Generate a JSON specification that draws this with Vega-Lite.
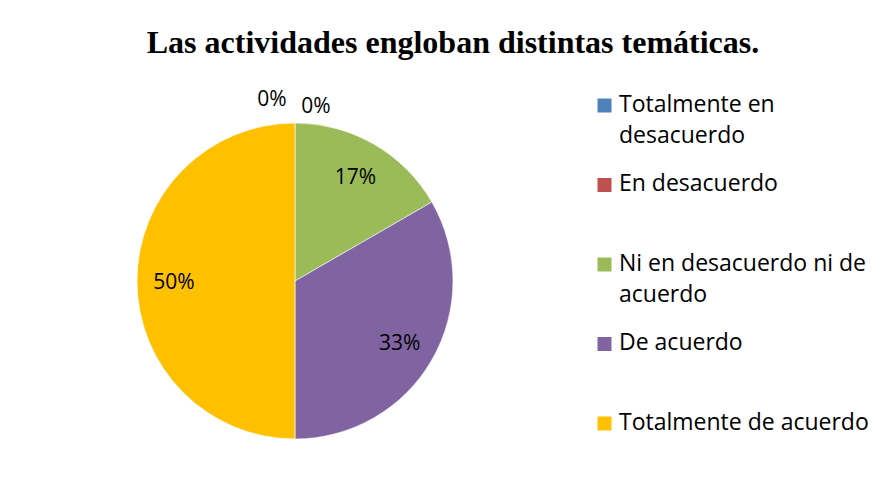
{
  "$schema": "https://vega.github.io/schema/vega-lite/v6.json",
  "width": 582,
  "height": 412,
  "autosize": {"type": "none"},
  "padding": {"left": 4, "top": 75, "right": 302, "bottom": 5},
  "background": "white",
  "config": {
    "view": {"stroke": null},
    "style": {"guide-label": {"lineHeight": 31}}
  },
  "title": {
    "text": "Las actividades engloban distintas temáticas.",
    "font": "Liberation Serif",
    "fontSize": 32,
    "fontWeight": "bold",
    "color": "black",
    "anchor": "middle",
    "frame": "group",
    "dx": 158,
    "offset": -10,
    "baseline": "alphabetic"
  },
  "data": {
    "values": [
      {"respuesta": "Totalmente en desacuerdo", "valor": 0, "orden": 1},
      {"respuesta": "En desacuerdo", "valor": 0, "orden": 2},
      {"respuesta": "Ni en desacuerdo ni de acuerdo", "valor": 0.1667, "orden": 3},
      {"respuesta": "De acuerdo", "valor": 0.3333, "orden": 4},
      {"respuesta": "Totalmente de acuerdo", "valor": 0.5, "orden": 5}
    ]
  },
  "encoding": {
    "theta": {"field": "valor", "type": "quantitative", "stack": true},
    "order": {"field": "orden", "type": "quantitative"},
    "color": {
      "field": "respuesta",
      "type": "nominal",
      "sort": ["Totalmente en desacuerdo", "En desacuerdo", "Ni en desacuerdo ni de acuerdo", "De acuerdo", "Totalmente de acuerdo"],
      "scale": {
        "domain": ["Totalmente en desacuerdo", "En desacuerdo", "Ni en desacuerdo ni de acuerdo", "De acuerdo", "Totalmente de acuerdo"],
        "range": ["#4F81BD", "#C0504D", "#9BBB59", "#8064A2", "#FFC000"]
      },
      "legend": {
        "title": null,
        "orient": "right",
        "offset": 0,
        "padding": 7,
        "symbolType": "M-1,0.714H1V2.714H-1Z",
        "symbolSize": 196,
        "symbolStrokeWidth": 0,
        "labelFont": "Open Sans",
        "labelFontSize": 23,
        "labelColor": "black",
        "labelLimit": 400,
        "labelOffset": 3,
        "labelBaseline": "top",
        "gridAlign": "all",
        "rowPadding": 13.5,
        "labelExpr": "datum.label == 'Totalmente en desacuerdo' ? ['Totalmente en', 'desacuerdo'] : datum.label == 'Ni en desacuerdo ni de acuerdo' ? ['Ni en desacuerdo ni de', 'acuerdo'] : datum.label"
      }
    }
  },
  "layer": [
    {
      "mark": {"type": "arc", "outerRadius": 158, "stroke": "white", "strokeWidth": 0.6}
    },
    {
      "transform": [{"filter": "datum.valor > 0"}],
      "mark": {"type": "text", "radius": 121, "dy": 2, "font": "Open Sans", "fontSize": 21},
      "encoding": {
        "text": {"field": "valor", "type": "quantitative", "format": ".0%"},
        "color": {"value": "black"}
      }
    },
    {
      "transform": [{"filter": "datum.orden == 1"}],
      "mark": {"type": "text", "radius": 181, "dx": -23, "font": "Open Sans", "fontSize": 21},
      "encoding": {
        "text": {"field": "valor", "type": "quantitative", "format": ".0%"},
        "color": {"value": "black"}
      }
    },
    {
      "transform": [{"filter": "datum.orden == 2"}],
      "mark": {"type": "text", "radius": 174, "dx": 21, "font": "Open Sans", "fontSize": 21},
      "encoding": {
        "text": {"field": "valor", "type": "quantitative", "format": ".0%"},
        "color": {"value": "black"}
      }
    }
  ]
}
